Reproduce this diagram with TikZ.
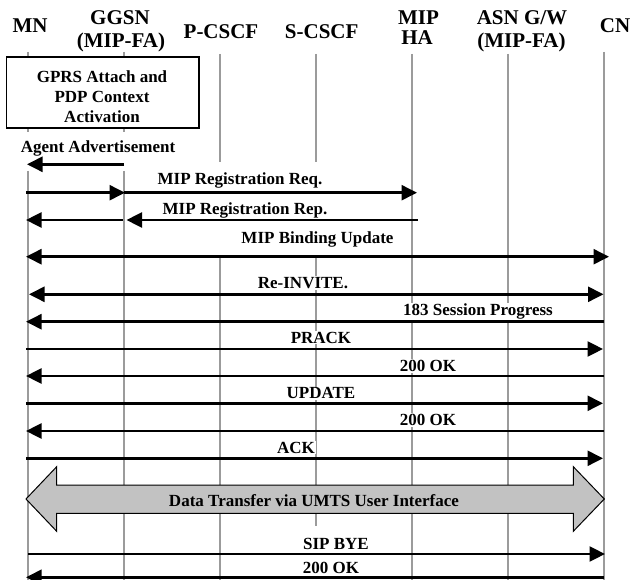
\documentclass[tikz,border=0pt]{standalone}
\usepackage{fontspec}
\setmainfont{Liberation Serif}
\usetikzlibrary{arrows.meta}
\definecolor{lifegray}{RGB}{155,155,155}
\definecolor{bigfill}{RGB}{194,194,194}
\begin{document}
\begin{tikzpicture}[x=1pt,y=-1pt,
  hdr/.style={font=\fontsize{21}{21}\selectfont\bfseries, inner sep=0pt, anchor=base},
  lbl/.style={font=\fontsize{17}{17}\selectfont\bfseries, fill=white, inner sep=1pt, anchor=base},
  life/.style={draw=lifegray, line width=2.6pt},
  msg/.style={line width=2.6pt, -{Triangle[length=15.5pt,width=15pt]}},
  msgb/.style={line width=2.6pt, {Triangle[length=15.5pt,width=15pt]}-{Triangle[length=15.5pt,width=15pt]}},
]
\useasboundingbox (0,0) rectangle (630,580);
% headers
\node[hdr] (mn) at (30,33) {MN};
\node[hdr] (ggsn) at (120,25) {GGSN};
\node[hdr] (ggsnb) at (121,48) {(MIP-FA)};
\node[hdr] (pcscf) at (221,39) {P-CSCF};
\node[hdr] (scscf) at (321.7,39) {S-CSCF};
\node[hdr] (mip) at (418.5,25) {MIP};
\node[hdr] (ha) at (417,45) {HA};
\node[hdr] (asn) at (522,25) {ASN G/W};
\node[hdr] (asnb) at (521.5,48) {(MIP-FA)};
\node[hdr] (cn) at (615,33) {CN};
% lifeline x positions
\coordinate (xmn) at (28,0);
\coordinate (xggsn) at (124,0);
\coordinate (xpc) at (220,0);
\coordinate (xsc) at (316,0);
\coordinate (xha) at (412,0);
\coordinate (xasn) at (508,0);
\coordinate (xcn) at (604,0);
% lifelines
\draw[life] (xmn |- 0,52) -- (xmn |- 0,132);
\draw[life] (xmn |- 0,171) -- (xmn |- 0,582);
\draw[life] (xggsn |- 0,52) -- (xggsn |- 0,132);
\draw[life] (xggsn |- 0,171) -- (xggsn |- 0,582);
\draw[life] (xpc |- 0,54) -- (xpc |- 0,162);
\draw[life] (xpc |- 0,258) -- (xpc |- 0,582);
\draw[life] (xsc |- 0,54) -- (xsc |- 0,162);
\draw[life] (xsc |- 0,258) -- (xsc |- 0,526);
\draw[life] (xha |- 0,54) -- (xha |- 0,582);
\draw[life] (xasn |- 0,54) -- (xasn |- 0,582);
\draw[life] (xcn |- 0,52) -- (xcn |- 0,582);
% GPRS box
\node[draw, line width=1.3pt, fill=white, minimum width=192.3pt, minimum height=71pt, inner sep=0pt] (gprs) at (102.85,92.5) {};
\node[font=\fontsize{17}{20}\selectfont\bfseries, align=center, inner sep=0pt, anchor=north] (gprstxt) at (102,70.2) {GPRS Attach and\\PDP Context\\Activation};
% labels
\node[lbl] (l1) at (98,153) {Agent Advertisement};
\node[lbl] (l2) at (240,184.3) {MIP Registration Req.};
\node[lbl] (l3) at (245,214.5) {MIP Registration Rep.};
\node[lbl] (l4) at (317.5,243.3) {MIP Binding Update};
\node[lbl] (l5) at (303,288.3) {Re-INVITE.};
\node[lbl] (l6) at (478,316) {183 Session Progress};
\node[lbl] (l7) at (321,343.3) {PRACK};
\node[lbl] (l8) at (428,371.7) {200 OK};
\node[lbl] (l9) at (321,399) {UPDATE};
\node[lbl] (l10) at (428,425.5) {200 OK};
\node[lbl] (l11) at (296,453.3) {ACK};
\node[lbl] (l13) at (336,549.3) {SIP BYE};
\node[lbl] (l14) at (331,573.3) {200 OK};
% messages
\draw[msg, shorten >=-1pt] (xggsn |- 0,164.3) -- (xmn |- 0,164.3);
\draw[msg, shorten <=-2pt, shorten >=-1pt] (xmn |- 0,192.7) -- (xggsn |- 0,192.7);
\draw[msg, shorten >=-5pt] (xggsn |- 0,192.7) -- (xha |- 0,192.7);
\draw[msg, shorten <=-5.5pt, shorten >=2.5pt] (xha |- 0,220) -- (xggsn |- 0,220);
\draw[msg, shorten <=1.3pt, shorten >=-2pt] (xggsn |- 0,220) -- (xmn |- 0,220);
\draw[msgb, shorten <=-2pt, shorten >=-5pt] (xmn |- 0,256.7) -- (xcn |- 0,256.7);
\draw[msgb, shorten <=1pt, shorten >=0.5pt] (xmn |- 0,294.3) -- (xcn |- 0,294.3);
\draw[msg, shorten >=-2pt] (xcn |- 0,321.7) -- (xmn |- 0,321.7);
\draw[msg, shorten <=-2pt, shorten >=1pt] (xmn |- 0,349) -- (xcn |- 0,349);
\draw[msg, shorten >=-2pt] (xcn |- 0,376) -- (xmn |- 0,376);
\draw[msg, shorten <=-2pt, shorten >=1pt] (xmn |- 0,403.3) -- (xcn |- 0,403.3);
\draw[msg, shorten >=-2pt] (xcn |- 0,431) -- (xmn |- 0,431);
\draw[msg, shorten <=-2pt, shorten >=1pt] (xmn |- 0,458.3) -- (xcn |- 0,458.3);
\draw[msg, shorten >=-1pt] (xmn |- 0,554) -- (xcn |- 0,554);
\draw[msg, shorten >=-2pt] (xcn |- 0,577.3) -- (xmn |- 0,577.3);
% data transfer big arrow
\draw[line width=1pt, fill=bigfill] (26,499) -- (56.7,466.7) -- (56.7,485) -- (573.3,485) -- (573.3,466.7) -- (604.3,499) -- (573.3,531.3) -- (573.3,513.3) -- (56.7,513.3) -- (56.7,531.3) -- cycle;
\node[font=\fontsize{17}{17}\selectfont\bfseries, inner sep=0pt, anchor=base] (l12) at (314,506) {Data Transfer via UMTS User Interface};
\end{tikzpicture}
\end{document}
